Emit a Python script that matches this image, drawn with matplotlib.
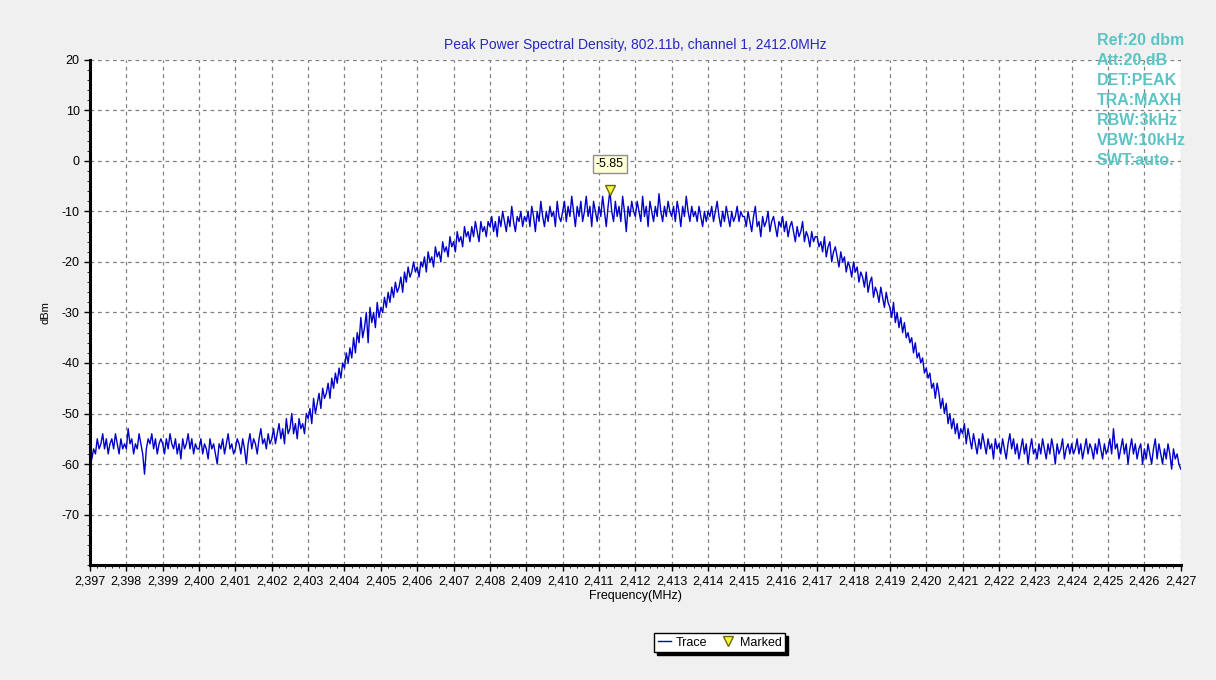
import matplotlib.pyplot as plt
from matplotlib.ticker import MultipleLocator, FuncFormatter
import numpy as np

# Trace, one value per 0.05 MHz (dBm)
freq_start = 2397.0
freq_step = 0.05
level = [
    -60, -59, -57, -58, -55, -57, -56, -54, -57, -55, -58, -56, -55, -57, -54, -56, -58, -55, -57, -56,
    -57, -53, -56, -55, -58, -56, -57, -54, -56, -58, -62, -57, -55, -56, -54, -57, -55, -58, -56, -55,
    -56, -58, -55, -57, -54, -56, -57, -55, -58, -56, -59, -55, -57, -56, -54, -57, -55, -58, -56, -57,
    -57, -55, -58, -56, -57, -59, -55, -57, -56, -58, -60, -56, -57, -55, -58, -56, -54, -57, -56, -58,
    -57, -55, -56, -58, -55, -57, -60, -56, -54, -57, -55, -56, -58, -55, -53, -56, -55, -57, -54, -56,
    -55, -53, -56, -54, -52, -55, -53, -56, -51, -54, -53, -50, -54, -52, -55, -51, -53, -52, -54, -50,
    -51, -49, -52, -47, -50, -48, -46, -49, -45, -47, -46, -44, -47, -43, -45, -42, -44, -41, -43, -40,
    -41, -38, -40, -37, -39, -35, -38, -34, -36, -31, -35, -33, -30, -36, -29, -32, -30, -33, -28, -31,
    -29, -30, -27, -29, -26, -28, -25, -27, -24, -26, -25, -23, -26, -22, -24, -21, -23, -22, -20, -22,
    -21, -23, -20, -21, -19, -22, -18, -20, -19, -21, -17, -19, -18, -20, -16, -18, -17, -19, -15, -17,
    -16, -18, -14, -16, -15, -17, -13, -15, -14, -16, -13, -15, -12, -14, -16, -12, -14, -13, -15, -12,
    -13, -11, -14, -12, -15, -11, -13, -10, -12, -14, -11, -13, -9, -12, -14, -11, -12, -10, -13, -11,
    -12, -10, -13, -9, -11, -14, -10, -12, -8, -11, -13, -10, -12, -9, -11, -10, -13, -8, -11, -12,
    -10, -8, -12, -9, -11, -7, -10, -13, -9, -11, -8, -12, -10, -7, -11, -9, -13, -8, -10, -12,
    -9, -11, -7, -10, -13, -9, -5.85, -10, -12, -8, -11, -9, -12, -7, -10, -14, -9, -11, -8, -10,
    -11, -8, -10, -12, -7, -11, -9, -13, -8, -10, -12, -9, -11, -6.5, -10, -12, -9, -11, -8, -10,
    -11, -9, -12, -8, -10, -13, -9, -11, -7, -10, -12, -9, -11, -10, -12, -9, -11, -13, -10, -12,
    -10, -11, -9, -12, -10, -8, -11, -13, -10, -12, -9, -11, -13, -10, -12, -11, -9, -12, -10, -11,
    -11, -13, -10, -12, -14, -11, -9, -13, -12, -15, -11, -13, -12, -10, -14, -12, -11, -13, -15, -12,
    -13, -11, -14, -12, -15, -13, -12, -14, -16, -13, -15, -14, -12, -16, -14, -15, -17, -14, -16, -15,
    -15, -17, -16, -18, -15, -19, -17, -16, -20, -18, -17, -19, -21, -18, -20, -19, -22, -20, -21, -23,
    -20, -22, -21, -24, -22, -23, -25, -22, -26, -24, -23, -27, -25, -26, -28, -25, -27, -29, -26, -28,
    -29, -31, -28, -32, -30, -33, -31, -34, -32, -35, -34, -36, -35, -38, -36, -39, -38, -40, -39, -42,
    -41, -43, -42, -45, -44, -47, -44, -46, -49, -47, -50, -48, -52, -50, -53, -51, -54, -52, -55, -53,
    -54, -52, -56, -53, -55, -57, -54, -56, -58, -55, -57, -54, -56, -58, -55, -57, -56, -59, -55, -57,
    -56, -58, -55, -57, -59, -56, -54, -57, -55, -58, -56, -59, -57, -55, -58, -56, -60, -57, -55, -58,
    -57, -59, -56, -58, -55, -57, -59, -56, -58, -55, -57, -60, -56, -58, -57, -55, -59, -57, -56, -58,
    -56, -58, -57, -55, -58, -56, -59, -57, -55, -58, -56, -57, -59, -56, -58, -55, -57, -59, -56, -58,
    -57, -55, -58, -53, -57, -56, -59, -57, -55, -58, -56, -60, -57, -55, -58, -56, -59, -57, -56, -60,
    -57, -59, -56, -58, -60, -57, -55, -59, -56, -58, -60, -57, -59, -56, -58, -61, -57, -59, -58, -60,
    -61,
]
marker_freq = 2411.3
marker_level = -5.85
settings = ["Ref:20 dbm", "Att:20.dB", "DET:PEAK", "TRA:MAXH",
            "RBW:3kHz", "VBW:10kHz", "SWT:auto."]

freq = freq_start + freq_step * np.arange(len(level))

plt.rcParams['font.family'] = ['Liberation Sans', 'DejaVu Sans']
plt.rcParams['axes.unicode_minus'] = False

fig = plt.figure(figsize=(12.16, 6.8), dpi=100, facecolor='#f0f0f0')
ax = fig.add_axes([0.074, 0.169, 0.897, 0.743])
ax.set_facecolor('white')

ax.plot(freq, level, color='#0000c8', lw=1.0, label='Trace')
ax.plot([marker_freq], [marker_level], marker='v', color='#f5f542',
        markeredgecolor='#6b6b00', markersize=7, ls='none', label='Marked')
ax.annotate(f"{marker_level:.2f}", (marker_freq, marker_level),
            xytext=(0, 19), textcoords='offset points', ha='center', va='center',
            fontsize=9, bbox=dict(boxstyle='square,pad=0.25', fc='#ffffd8', ec='#909090'))

ax.set_xlim(2397, 2427)
ax.set_ylim(-80, 20)
ax.xaxis.set_major_locator(MultipleLocator(1))
ax.xaxis.set_minor_locator(MultipleLocator(0.2))
ax.yaxis.set_minor_locator(MultipleLocator(2))
ax.set_yticks(np.arange(-70, 21, 10))
ax.xaxis.set_major_formatter(FuncFormatter(lambda v, p: f"{int(round(v)):,}"))
ax.tick_params(labelsize=9, colors='black', length=4, width=1)
ax.tick_params(which='minor', length=2)
ax.grid(True, which='major', color='#808080', ls=(0, (3, 3)), lw=0.9)

for side in ['top', 'right']:
    ax.spines[side].set_visible(False)
for side in ['left', 'bottom']:
    ax.spines[side].set_linewidth(2.2)

ax.set_title("Peak Power Spectral Density, 802.11b, channel 1, 2412.0MHz",
             color='#2828c0', fontsize=10, pad=8)
ax.set_xlabel("Frequency(MHz)", fontsize=9, labelpad=2)
ax.set_ylabel("dBm", fontsize=8, labelpad=8)

fig.text(0.902, 0.952, "\n".join(settings), color='#5cc4c4', fontsize=11.5,
         fontweight='bold', va='top', ha='left', linespacing=1.42)

leg = fig.legend(loc='center', bbox_to_anchor=(0.592, 0.055), ncol=2, fontsize=9,
                 frameon=True, fancybox=False, edgecolor='black', handlelength=1.0,
                 columnspacing=1.2, handletextpad=0.4, borderpad=0.3,
                 shadow={'color': 'black', 'alpha': 1})
leg.get_frame().set_linewidth(1)

fig.savefig("out.png", dpi=100, facecolor=fig.get_facecolor())
